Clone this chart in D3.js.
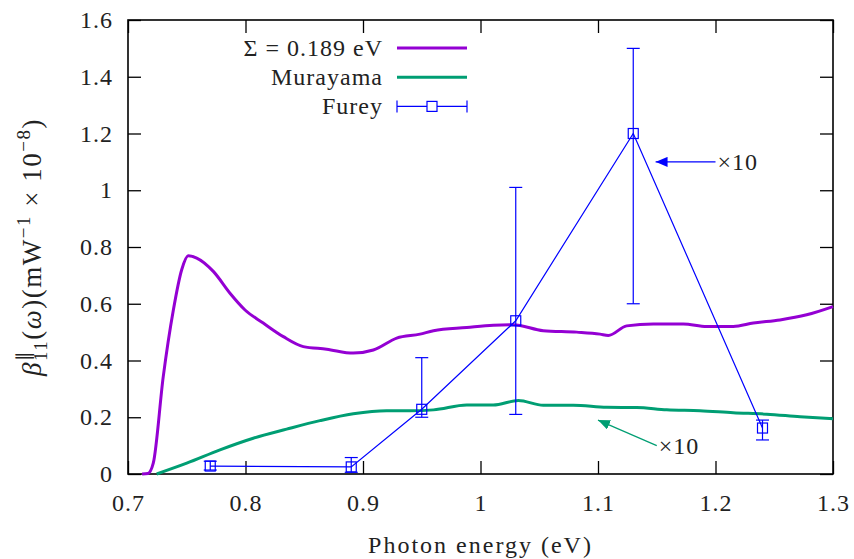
<!DOCTYPE html>
<html>
<meta charset="utf-8">
<style>
  body { margin: 0; background: #fff; }
  text { font-family: "Liberation Serif", "Times New Roman", serif; fill: #222; letter-spacing: 1px; }
</style>
<script src="https://d3js.org/d3.v7.min.js"></script>
<body>
<script>
  var svgWidth = 854, svgHeight = 559;

  // Sigma = 0.189 eV curve
  var sigmaX = [0.712, 0.717, 0.7215, 0.730, 0.7386, 0.7457, 0.7513, 0.7585, 0.7726, 0.7868, 0.7996, 0.8151, 0.8322, 0.8492, 0.8691, 0.8917, 0.9088, 0.9287, 0.9485, 0.960, 0.9883, 1.0109, 1.0279, 1.0534, 1.0819, 1.1017, 1.1088, 1.1244, 1.1471, 1.1726, 1.1925, 1.2151, 1.2322, 1.2549, 1.2776, 1.3];
  var sigmaY = [0, 0.002, 0.038, 0.343, 0.578, 0.720, 0.769, 0.761, 0.714, 0.637, 0.578, 0.532, 0.484, 0.449, 0.440, 0.426, 0.437, 0.479, 0.493, 0.505, 0.516, 0.524, 0.526, 0.505, 0.500, 0.493, 0.488, 0.522, 0.529, 0.529, 0.520, 0.520, 0.532, 0.543, 0.561, 0.590];

  // Murayama curve
  var murX = [0.7244, 0.750, 0.7783, 0.8066, 0.835, 0.8634, 0.8917, 0.920, 0.940, 0.960, 0.9883, 1.0109, 1.0322, 1.0534, 1.079, 1.1074, 1.1329, 1.1585, 1.1868, 1.2151, 1.2436, 1.272, 1.3];
  var murY = [0, 0.038, 0.085, 0.126, 0.158, 0.188, 0.212, 0.223, 0.223, 0.226, 0.243, 0.243, 0.259, 0.242, 0.242, 0.235, 0.234, 0.226, 0.223, 0.216, 0.211, 0.202, 0.195];

  // Furey points with error bars
  var fureyX = [0.77, 0.89, 0.95, 1.03, 1.13, 1.24];
  var fureyY = [0.028, 0.025, 0.228, 0.54, 1.2, 0.162];
  var fureyLow = [0.014, 0.006, 0.2, 0.21, 0.6, 0.12];
  var fureyHigh = [0.045, 0.058, 0.41, 1.01, 1.5, 0.19];

  var xTicks = [0.7, 0.8, 0.9, 1.0, 1.1, 1.2, 1.3];
  var yTicks = [0, 0.2, 0.4, 0.6, 0.8, 1.0, 1.2, 1.4, 1.6];

  var legendLabels = ["\u03A3 = 0.189 eV", "Murayama", "Furey"];

  // annotations: arrow from (x1,y1) to (x2,y2), in data units
  var notes = [
    { x1: 1.2, y1: 1.10, x2: 1.149, y2: 1.10, color: "#0000ff" },
    { x1: 1.15, y1: 0.10, x2: 1.10, y2: 0.19, color: "#009e73" }
  ];

  var purple = "#9400d3", green = "#009e73", blue = "#0000ff";
  var fontSize = 24;

  var svg = d3.select("body").append("svg")
    .attr("width", svgWidth)
    .attr("height", svgHeight);

  var x = d3.scaleLinear().domain([0.7, 1.3]).range([128, 833]);
  var y = d3.scaleLinear().domain([0, 1.6]).range([474, 20]);

  var fmt = d3.format("~g");

  var axBottom = svg.append("g").attr("transform", "translate(0," + y(0) + ")")
    .call(d3.axisBottom(x).tickValues(xTicks).tickFormat(fmt).tickSizeInner(-13).tickSizeOuter(0).tickPadding(20));
  var axTop = svg.append("g").attr("transform", "translate(0," + y(1.6) + ")")
    .call(d3.axisTop(x).tickValues(xTicks).tickFormat("").tickSizeInner(-13).tickSizeOuter(0));
  var axLeft = svg.append("g").attr("transform", "translate(" + x(0.7) + ",0)")
    .call(d3.axisLeft(y).tickValues(yTicks).tickFormat(fmt).tickSizeInner(-13).tickSizeOuter(0).tickPadding(15));
  var axRight = svg.append("g").attr("transform", "translate(" + x(1.3) + ",0)")
    .call(d3.axisRight(y).tickValues(yTicks).tickFormat("").tickSizeInner(-13).tickSizeOuter(0));

  [axBottom, axTop, axLeft, axRight].forEach(function(a){
    a.select(".domain").remove();
    a.selectAll(".tick line").attr("stroke", "#000").attr("stroke-width", 1.3);
    a.selectAll("text").style("font-family", "Liberation Serif").style("font-size", fontSize + "px").attr("fill", "#222");
  });

  svg.append("rect")
    .attr("x", x(0.7)).attr("y", y(1.6))
    .attr("width", x(1.3) - x(0.7)).attr("height", y(0) - y(1.6))
    .attr("fill", "none").attr("stroke", "#000").attr("stroke-width", 1.6);

  var line = d3.line()
    .x(function(d){ return x(d[0]); })
    .y(function(d){ return y(d[1]); })
    .curve(d3.curveMonotoneX);

  svg.append("path")
    .datum(d3.zip(murX, murY))
    .attr("d", line)
    .attr("fill", "none").attr("stroke", green).attr("stroke-width", 3);

  svg.append("path")
    .datum(d3.zip(sigmaX, sigmaY))
    .attr("d", line)
    .attr("fill", "none").attr("stroke", purple).attr("stroke-width", 3);

  // Furey
  var furey = d3.range(fureyX.length).map(function(i){
    return { x: fureyX[i], y: fureyY[i], lo: fureyLow[i], hi: fureyHigh[i] };
  });

  svg.append("path")
    .datum(furey)
    .attr("d", d3.line().x(function(d){ return x(d.x); }).y(function(d){ return y(d.y); }))
    .attr("fill", "none").attr("stroke", blue).attr("stroke-width", 1.2);

  var fg = svg.selectAll(".furey").data(furey).enter().append("g").attr("class", "furey");
  fg.append("line")
    .attr("x1", function(d){ return x(d.x); }).attr("x2", function(d){ return x(d.x); })
    .attr("y1", function(d){ return y(d.lo); }).attr("y2", function(d){ return y(d.hi); })
    .attr("stroke", blue).attr("stroke-width", 1.2);
  ["lo", "hi"].forEach(function(k){
    fg.append("line")
      .attr("x1", function(d){ return x(d.x) - 6.5; }).attr("x2", function(d){ return x(d.x) + 6.5; })
      .attr("y1", function(d){ return y(d[k]); }).attr("y2", function(d){ return y(d[k]); })
      .attr("stroke", blue).attr("stroke-width", 1.2);
  });
  fg.append("rect")
    .attr("x", function(d){ return x(d.x) - 5; }).attr("y", function(d){ return y(d.y) - 5; })
    .attr("width", 10).attr("height", 10)
    .attr("fill", "none").attr("stroke", blue).attr("stroke-width", 1.2);

  // annotations
  var defs = svg.append("defs");
  notes.forEach(function(n, i){
    defs.append("marker")
      .attr("id", "arrow" + i)
      .attr("viewBox", "0 0 12 10").attr("refX", 12).attr("refY", 5)
      .attr("markerWidth", 12).attr("markerHeight", 10)
      .attr("markerUnits", "userSpaceOnUse")
      .attr("orient", "auto")
      .append("path").attr("d", "M0,0L12,5L0,10Z").attr("fill", n.color);
    svg.append("line")
      .attr("x1", x(n.x1)).attr("y1", y(n.y1))
      .attr("x2", x(n.x2)).attr("y2", y(n.y2))
      .attr("stroke", n.color).attr("stroke-width", 1.2)
      .attr("marker-end", "url(#arrow" + i + ")");
    svg.append("text")
      .attr("x", x(n.x1) + 2).attr("y", y(n.y1) + 8)
      .style("font-size", fontSize + "px")
      .text("\u00D710");
  });

  // legend
  var legendColors = [purple, green, blue];
  var lg = svg.selectAll(".legend").data(legendLabels).enter().append("g")
    .attr("class", "legend")
    .attr("transform", function(d, i){ return "translate(0," + (48 + i * 29.2) + ")"; });
  lg.append("text")
    .attr("x", 383).attr("dy", "0.33em")
    .attr("text-anchor", "end")
    .style("font-size", fontSize + "px")
    .text(function(d){ return d; });
  lg.append("line")
    .attr("x1", 397).attr("x2", 467)
    .attr("stroke", function(d, i){ return legendColors[i]; })
    .attr("stroke-width", function(d, i){ return i < 2 ? 3 : 1.2; });
  var fl = lg.filter(function(d, i){ return i === 2; });
  [397, 467].forEach(function(px){
    fl.append("line").attr("x1", px).attr("x2", px).attr("y1", -6).attr("y2", 6)
      .attr("stroke", blue).attr("stroke-width", 1.2);
  });
  fl.append("rect").attr("x", 427).attr("y", -5).attr("width", 10).attr("height", 10)
    .attr("fill", "#fff").attr("stroke", blue).attr("stroke-width", 1.2);

  // x label
  svg.append("text")
    .attr("x", (x(0.7) + x(1.3)) / 2).attr("y", 553)
    .attr("text-anchor", "middle")
    .style("font-size", fontSize + "px")
    .style("letter-spacing", "2px")
    .text("Photon energy (eV)");

  // y label built piece by piece
  var yl = svg.append("g").attr("transform", "translate(41,247) rotate(-90)");
  var inner = yl.append("g");
  var pieces = [
    { t: "\u03B2", it: true },
    { t: "11", sub: true },
    { t: "\u2225", sup: true, back: true },
    { t: "(" },
    { t: "\u03C9", it: true },
    { t: ")(mW" },
    { t: "\u22121", sup: true },
    { t: "\u00A0\u00D7\u00A010" },
    { t: "\u22128", sup: true },
    { t: ")" }
  ];
  var cx = 0, lastX = 0;
  pieces.forEach(function(p){
    var size = (p.sub || p.sup) ? 19 : 27;
    var px = p.back ? lastX : cx;
    var t = inner.append("text")
      .attr("x", px)
      .attr("y", p.sub ? 6 : (p.sup ? -11 : 0))
      .style("font-size", size + "px")
      .style("font-style", p.it ? "italic" : "normal")
      .style("letter-spacing", "1.5px")
      .text(p.t);
    var w = t.node().getComputedTextLength();
    if (p.back) {
      cx = Math.max(cx, px + w);
    } else {
      lastX = px;
      cx = px + w;
    }
  });
  inner.attr("transform", "translate(" + (-cx / 2) + ",0)");
</script>
</body>
</html>
